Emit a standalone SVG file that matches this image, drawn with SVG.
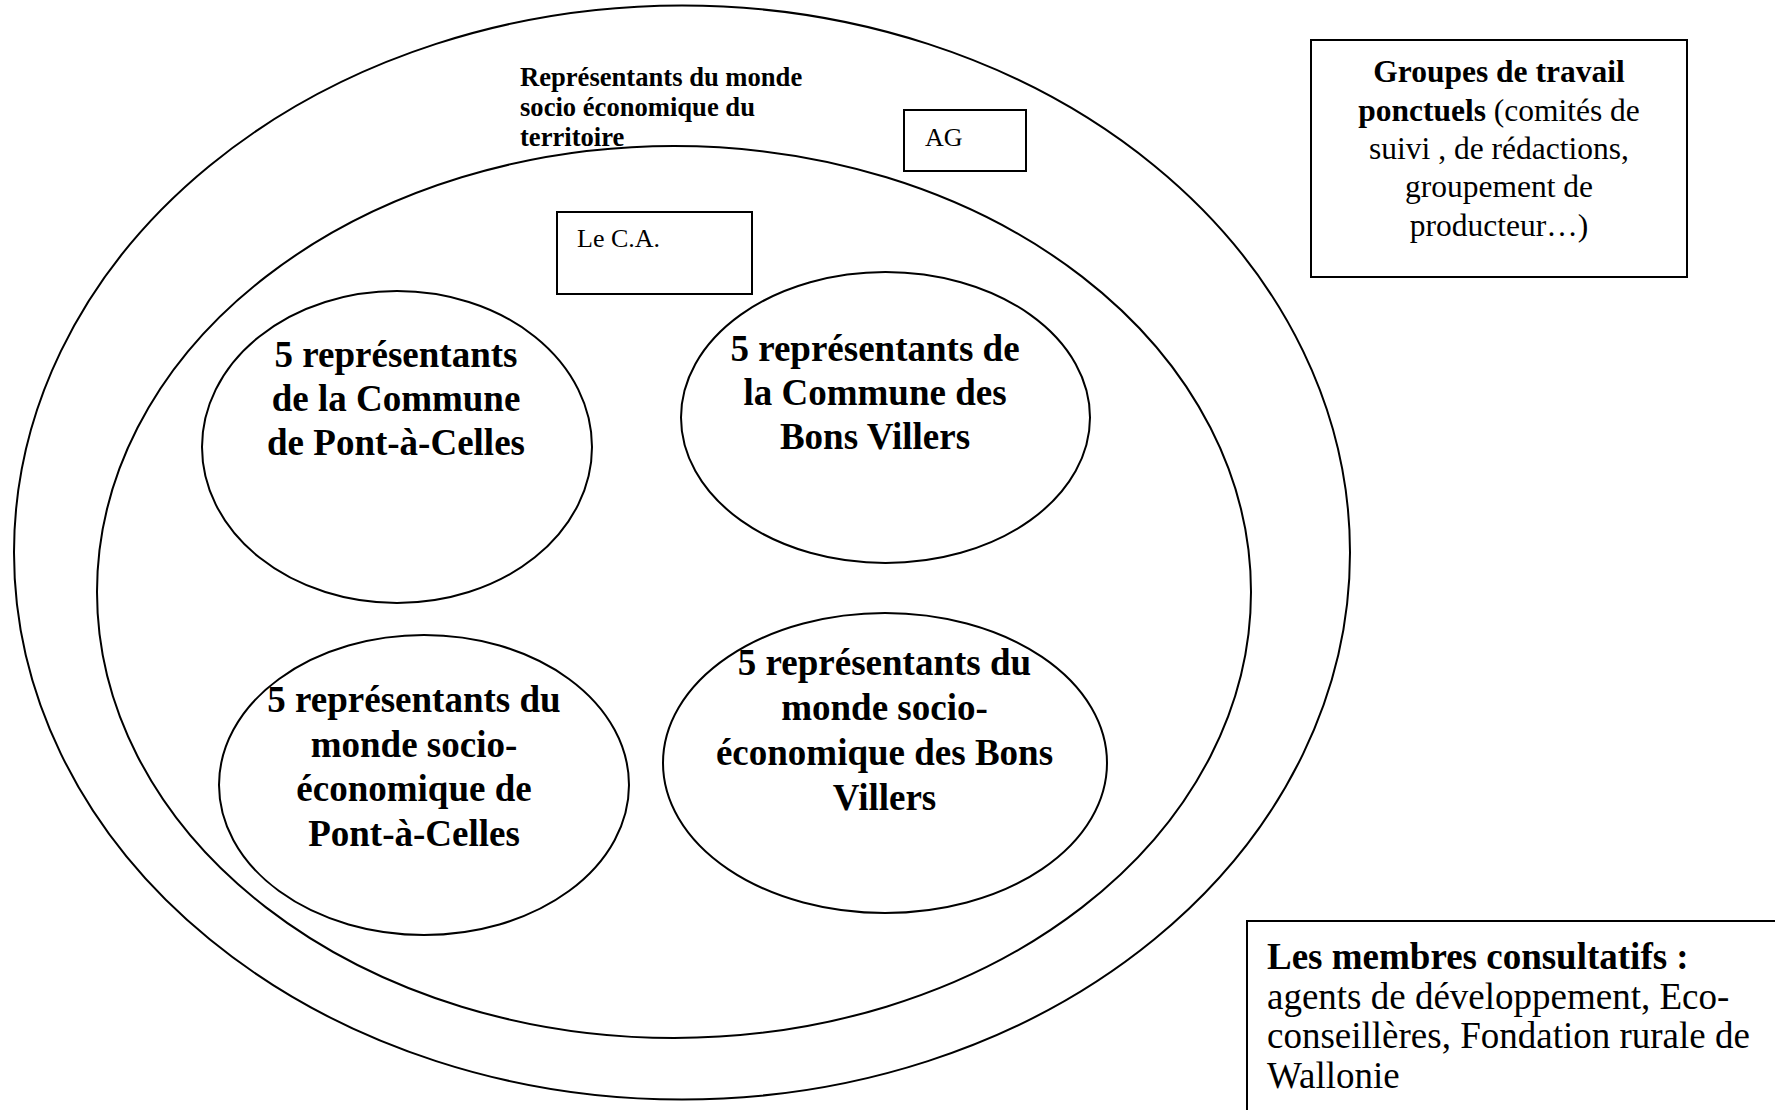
<svg xmlns="http://www.w3.org/2000/svg" width="1775" height="1110" viewBox="0 0 1775 1110">
<style>
  .shape { fill: none; stroke: #000; stroke-width: 2; }
  .box { fill: #fff; stroke: #000; stroke-width: 2; }
  text { font-family: "Liberation Serif", "Times New Roman", serif; fill: #000; }
  .b { font-weight: bold; }
  .circ { font-size: 37px; font-weight: bold; text-anchor: middle; }
</style>
<rect width="1775" height="1110" fill="#fff"/>
<g id="ag-ellipse">
  <ellipse class="shape" cx="682" cy="552.5" rx="668" ry="547"/>
  <text class="b" font-size="26.6" x="520" y="86">Représentants du monde</text>
  <text class="b" font-size="26.6" x="520" y="116">socio économique du</text>
  <text class="b" font-size="26.6" x="520" y="146">territoire</text>
</g>
<g id="ag-label">
  <rect class="box" x="904" y="110" width="122" height="61"/>
  <text font-size="26" x="925" y="146">AG</text>
</g>
<g id="ca-ellipse">
  <ellipse class="shape" cx="674" cy="592" rx="577" ry="446"/>
</g>
<g id="ca-label">
  <rect class="box" x="557" y="212" width="195" height="82"/>
  <text font-size="26" x="577" y="247">Le C.A.</text>
</g>
<g id="commune-pac">
  <ellipse class="shape" cx="397" cy="447" rx="195" ry="156"/>
  <text class="circ" x="396" y="367">5 représentants</text>
  <text class="circ" x="396" y="411">de la Commune</text>
  <text class="circ" x="396" y="455">de Pont-à-Celles</text>
</g>
<g id="commune-bv">
  <ellipse class="shape" cx="885.5" cy="417.5" rx="204.5" ry="145.5"/>
  <text class="circ" x="875" y="361">5 représentants de</text>
  <text class="circ" x="875" y="405">la Commune des</text>
  <text class="circ" x="875" y="449">Bons Villers</text>
</g>
<g id="socio-pac">
  <ellipse class="shape" cx="424" cy="785" rx="205" ry="150"/>
  <text class="circ" x="414" y="712">5 représentants du</text>
  <text class="circ" x="414" y="757">monde socio-</text>
  <text class="circ" x="414" y="801">économique de</text>
  <text class="circ" x="414" y="846">Pont-à-Celles</text>
</g>
<g id="socio-bv">
  <ellipse class="shape" cx="885" cy="763" rx="222" ry="150"/>
  <text class="circ" x="884.5" y="675">5 représentants du</text>
  <text class="circ" x="884.5" y="720">monde socio-</text>
  <text class="circ" x="884.5" y="765">économique des Bons</text>
  <text class="circ" x="884.5" y="810">Villers</text>
</g>
<g id="groupes-travail">
  <rect class="box" x="1311" y="40" width="376" height="237"/>
  <g font-size="31.5" text-anchor="middle">
    <text class="b" x="1499" y="82">Groupes de travail</text>
    <text x="1499" y="121"><tspan font-weight="bold">ponctuels</tspan> (comités de</text>
    <text x="1499" y="159">suivi , de rédactions,</text>
    <text x="1499" y="197">groupement de</text>
    <text x="1499" y="236">producteur…)</text>
  </g>
</g>
<g id="membres-consultatifs">
  <rect class="box" x="1247" y="921" width="600" height="300"/>
  <g font-size="37">
    <text class="b" x="1267" y="969">Les membres consultatifs :</text>
    <text x="1267" y="1009">agents de développement, Eco-</text>
    <text x="1267" y="1048">conseillères, Fondation rurale de</text>
    <text x="1267" y="1088">Wallonie</text>
  </g>
</g>
<g id="connectors"></g>
</svg>
